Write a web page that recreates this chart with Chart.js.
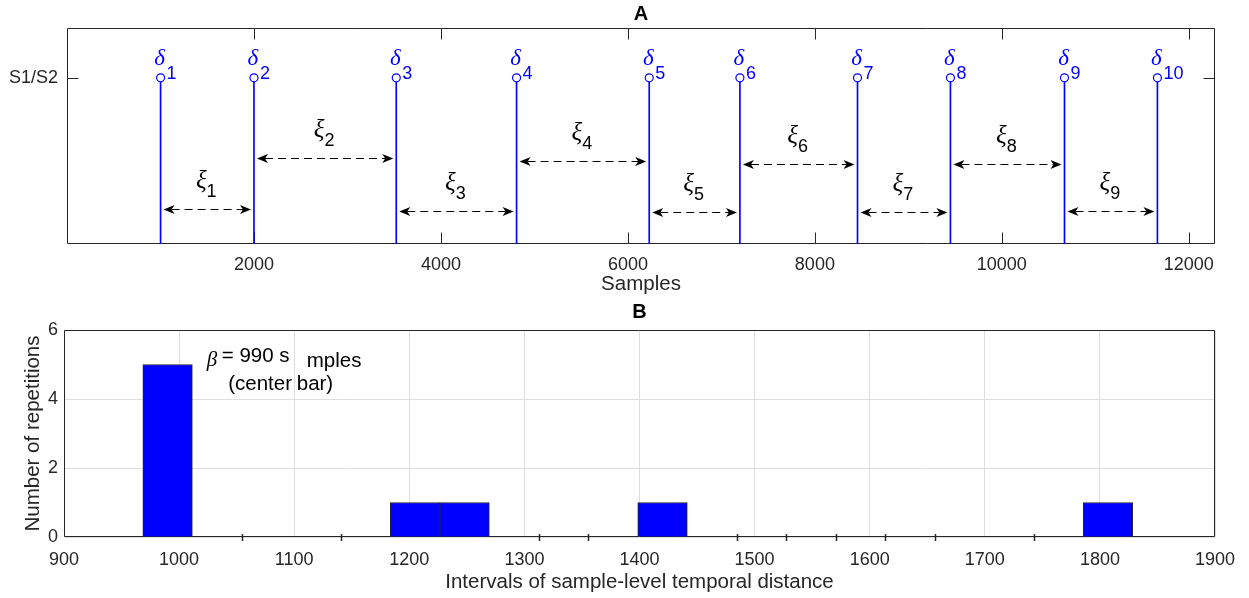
<!DOCTYPE html>
<html>
<head>
<meta charset="utf-8">
<script src="https://cdn.jsdelivr.net/npm/chart.js@4.4.1/dist/chart.umd.min.js"></script>
<style>
  body { margin: 0; background: #fff; }
  canvas { position: absolute; left: 0; }
  #top { top: 0; }
  #bottom { top: 298px; }
</style>
</head>
<body>
<canvas id="top" width="1249" height="298"></canvas>
<canvas id="bottom" width="1249" height="300"></canvas>
<script>
// spike onsets (in samples) on the S1/S2 channel
const spikeSamples = [1001, 2000, 3522, 4809, 6228, 7198, 8456, 9450, 10670, 11664]
const spikeLevel = 1
// heights of the interval arrows drawn between neighbouring spikes
const gapArrowLevels = [0.21, 0.52, 0.2, 0.5, 0.19, 0.48, 0.19, 0.48, 0.2]
const sampleTicks = [2000, 4000, 6000, 8000, 10000, 12000]

// histogram of the intervals
const binCenters = [990, 1205, 1248, 1420, 1807]
const binCounts = [5, 1, 1, 1, 1]
// empty bins still leave a stub of their edge on the axis
const emptyBinEdges = [1054.5, 1140.5, 1312.5, 1355.5, 1484.5, 1527.5, 1570.5, 1613.5, 1656.5, 1742.5]

const sans = '"Liberation Sans", Arial, sans-serif'
const serif = '"Liberation Serif", "Times New Roman", serif'
const axisColor = '#262626'
const gridColor = '#dedede'
const blue = '#0000ff'

Chart.defaults.font.family = sans
Chart.defaults.color = axisColor

const plainNumber = (v) => String(v)

// axes box with inward ticks, drawn under the data
const boxTicks = {
    id: 'boxTicks',
    beforeDatasetsDraw(chart, args, opts) {
        const {ctx, chartArea: a, scales: {x, y}} = chart
        const len = opts.length || 0
        const L = Math.round(a.left) + 0.5, R = Math.round(a.right) - 0.5
        const T = Math.round(a.top) + 0.5, B = Math.round(a.bottom) - 0.5
        ctx.save()
        ctx.strokeStyle = axisColor
        ctx.lineWidth = 1
        ctx.beginPath()
        ctx.rect(L, T, R - L, B - T)
        if (len) {
            x.ticks.forEach((t) => {
                const px = Math.round(x.getPixelForValue(t.value)) + 0.5
                ctx.moveTo(px, T); ctx.lineTo(px, T + len)
                ctx.moveTo(px, B); ctx.lineTo(px, B - len)
            })
            y.ticks.forEach((t) => {
                const py = Math.round(y.getPixelForValue(t.value)) + 0.5
                ctx.moveTo(L, py); ctx.lineTo(L + len, py)
                ctx.moveTo(R, py); ctx.lineTo(R - len, py)
            })
        }
        ctx.stroke()
        ctx.restore()
    }
}

function arrowHead(ctx, x, y, dir) {
    ctx.beginPath()
    ctx.moveTo(x, y)
    ctx.lineTo(x - dir * 11, y - 4.5)
    ctx.lineTo(x - dir * 8, y)
    ctx.lineTo(x - dir * 11, y + 4.5)
    ctx.closePath()
    ctx.fill()
}

// delta labels on the stems and xi arrows between them
const stemNotes = {
    id: 'stemNotes',
    afterDatasetsDraw(chart) {
        const {ctx, scales: {x, y}} = chart
        const stems = spikeSamples.map((s) => x.getPixelForValue(s))
        const py = y.getPixelForValue(spikeLevel)
        ctx.save()
        ctx.fillStyle = blue
        ctx.textBaseline = 'middle'
        stems.forEach((px, i) => {
            ctx.font = `italic 23px ${serif}`
            ctx.textAlign = 'center'
            ctx.fillText('δ', px - 1, py - 19)
            ctx.font = `18px ${sans}`
            ctx.textAlign = 'left'
            ctx.fillText(String(i + 1), px + 6, py - 4)
        })

        ctx.strokeStyle = '#000'
        ctx.fillStyle = '#000'
        ctx.lineWidth = 1
        gapArrowLevels.forEach((lvl, i) => {
            const x1 = stems[i] + 3, x2 = stems[i + 1] - 3
            const yy = Math.round(y.getPixelForValue(lvl)) + 0.5
            ctx.setLineDash([8, 5])
            ctx.beginPath()
            ctx.moveTo(x1 + 8, yy)
            ctx.lineTo(x2 - 8, yy)
            ctx.stroke()
            ctx.setLineDash([])
            arrowHead(ctx, x2, yy, 1)
            arrowHead(ctx, x1, yy, -1)

            const mid = (stems[i] + stems[i + 1]) / 2
            const sub = String(i + 1)
            ctx.font = `italic 25px ${serif}`
            const gw = ctx.measureText('ξ').width
            ctx.font = `18px ${sans}`
            const sw = ctx.measureText(sub).width
            const start = mid - (gw + sw) / 2 - 1
            ctx.textAlign = 'left'
            ctx.font = `italic 25px ${serif}`
            ctx.fillText('ξ', start, yy - 28)
            ctx.font = `18px ${sans}`
            ctx.fillText(sub, start + gw, yy - 17)
        })
        ctx.restore()
    }
}

// bin edge stubs and the note on the centre bar
const noteAnchor = {x: 1024, y: 5.08}
const histNotes = {
    id: 'histNotes',
    afterDatasetsDraw(chart) {
        const {ctx, scales: {x, y}} = chart
        const base = y.getPixelForValue(0)
        ctx.save()
        ctx.strokeStyle = axisColor
        ctx.lineWidth = 1.5
        ctx.beginPath()
        emptyBinEdges.forEach((e) => {
            const px = Math.round(x.getPixelForValue(e)) + 0.5
            ctx.moveTo(px, base - 3)
            ctx.lineTo(px, base + 4)
        })
        ctx.stroke()

        const ax = x.getPixelForValue(noteAnchor.x)
        const ay = y.getPixelForValue(noteAnchor.y)
        ctx.fillStyle = '#000'
        ctx.textAlign = 'left'
        ctx.textBaseline = 'alphabetic'
        ctx.font = `italic 21px ${serif}`
        ctx.fillText('β', ax, ay + 4)
        ctx.font = `20.5px ${sans}`
        ctx.fillText(`= ${binCenters[0]} s`, ax + 15, ay)
        ctx.fillText('mples', ax + 100, ay + 5)
        ctx.fillText('(center', ax + 21.5, ay + 28.5)
        ctx.fillText('bar)', ax + 90, ay + 28.5)
        ctx.restore()
    }
}

const stemPoints = spikeSamples.map((s) => ({x: s, y: spikeLevel}))

new Chart(document.getElementById('top'), {
    type: 'bar',
    data: {
        datasets: [{
            type: 'scatter',
            data: stemPoints,
            order: 0,
            pointStyle: 'circle',
            pointRadius: 4,
            pointBorderWidth: 1.2,
            borderColor: blue,
            backgroundColor: '#fff'
        }, {
            type: 'bar',
            data: stemPoints,
            order: 1,
            backgroundColor: blue,
            borderWidth: 0,
            barThickness: 1
        }]
    },
    options: {
        responsive: false,
        animation: false,
        events: [],
        layout: {padding: {left: 0, right: 34, top: 0, bottom: 0}},
        scales: {
            x: {
                type: 'linear',
                min: 0,
                max: 12280,
                offset: false,
                afterBuildTicks: (s) => { s.ticks = sampleTicks.map((v) => ({value: v})) },
                afterFit: (s) => { s.height = 54 },
                grid: {display: false, drawTicks: false, offset: false},
                border: {display: false},
                ticks: {padding: 10, font: {size: 18}, color: axisColor, callback: plainNumber},
                title: {display: true, text: 'Samples', font: {size: 20.5}, color: axisColor, padding: {top: 0, bottom: 1}}
            },
            y: {
                type: 'linear',
                min: 0,
                max: 1.3,
                afterBuildTicks: (s) => { s.ticks = [{value: spikeLevel}] },
                afterFit: (s) => { s.width = 67 },
                grid: {display: false, drawTicks: false},
                border: {display: false},
                ticks: {padding: 9, font: {size: 18}, color: axisColor, callback: () => 'S1/S2'}
            }
        },
        plugins: {
            legend: {display: false},
            tooltip: {enabled: false},
            title: {display: true, text: 'A', fullSize: false, color: '#000', font: {size: 20, weight: 'bold'}, padding: {top: 2, bottom: 2}},
            boxTicks: {length: 11}
        }
    },
    plugins: [boxTicks, stemNotes]
})

new Chart(document.getElementById('bottom'), {
    type: 'bar',
    data: {
        datasets: [{
            data: binCenters.map((c, i) => ({x: c, y: binCounts[i]})),
            backgroundColor: blue,
            borderColor: axisColor,
            borderWidth: 1,
            categoryPercentage: 1,
            barPercentage: 1
        }]
    },
    options: {
        responsive: false,
        animation: false,
        events: [],
        layout: {padding: {left: 0, right: 34, top: 0, bottom: 0}},
        scales: {
            x: {
                type: 'linear',
                min: 900,
                max: 1900,
                offset: false,
                afterFit: (s) => { s.height = 61 },
                grid: {color: gridColor, drawTicks: false, offset: false},
                border: {display: false},
                ticks: {stepSize: 100, padding: 12, font: {size: 18}, color: axisColor, callback: plainNumber},
                title: {display: true, text: 'Intervals of sample-level temporal distance', font: {size: 20.5}, color: axisColor, padding: {top: 0, bottom: 3}}
            },
            y: {
                min: 0,
                max: 6,
                afterFit: (s) => { s.width = 64 },
                grid: {color: gridColor, drawTicks: false},
                border: {display: false},
                ticks: {stepSize: 2, padding: 6, font: {size: 18}, color: axisColor, callback: plainNumber},
                title: {display: true, text: 'Number of repetitions', font: {size: 20.5}, color: axisColor, padding: {top: 21, bottom: 0}}
            }
        },
        plugins: {
            legend: {display: false},
            tooltip: {enabled: false},
            title: {display: true, text: 'B', fullSize: false, color: '#000', font: {size: 20, weight: 'bold'}, padding: {top: 2, bottom: 6}},
            boxTicks: {length: 0}
        }
    },
    plugins: [boxTicks, histNotes]
})
</script>
</body>
</html>
